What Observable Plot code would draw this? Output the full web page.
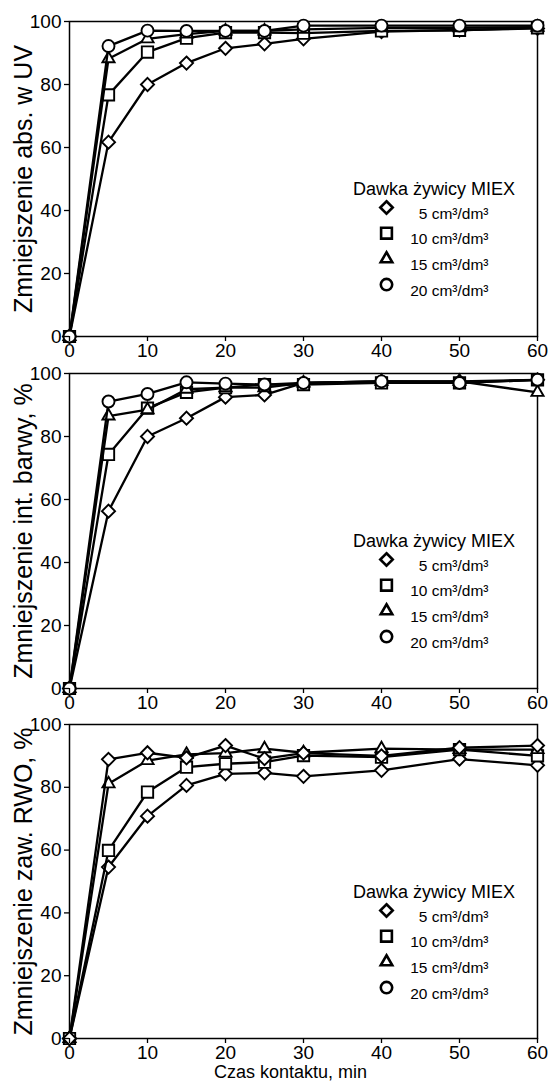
<!DOCTYPE html>
<html><head><meta charset="utf-8">
<script src="https://cdn.jsdelivr.net/npm/d3@7"></script>
<script src="https://cdn.jsdelivr.net/npm/@observablehq/plot@0.6"></script>
<style>
body{margin:0;background:#fff;font-family:"Liberation Sans",Arial,sans-serif;}
#chart{width:552px;}
#chart svg{display:block;overflow:visible;}
</style></head><body><div id="chart"></div>
<script>
const times = [0,5,10,15,20,25,30,40,50,60];
const doses = ["5 cm³/dm³","10 cm³/dm³","15 cm³/dm³","20 cm³/dm³"];
const legendTitle = "Dawka żywicy MIEX";
const xTicks = [0,10,20,30,40,50,60];
const yTicks = [0,20,40,60,80,100];
const xLabel = "Czas kontaktu, min";

const uvLabel = "Zmniejszenie abs. w UV";
const uv5  = [0,61.7,80,86.8,91.5,92.9,94.5,96.8,97.3,97.8];
const uv10 = [0,76.7,90.3,94.7,96.5,96.5,96.3,97,97.2,98];
const uv15 = [0,88.2,94.5,96,97,97,97.5,98,98,98.2];
const uv20 = [0,92.2,97.1,97,97,97,98.7,98.7,98.7,98.7];

const colLabel = "Zmniejszenie int. barwy, %";
const col5  = [0,56.3,80,85.8,92.5,93.2,97,97.5,97.5,98];
const col10 = [0,74.3,89,94,95.5,96.5,96.5,97,97,98];
const col15 = [0,86.5,88.5,95,95.5,95.5,97,97.5,97.5,94];
const col20 = [0,91.1,93.5,97.2,96.8,96.5,97,97.5,97,98];

const rwoLabel = "Zmniejszenie zaw. RWO, %";
const rwo5  = [0,54.6,70.8,80.6,84.3,84.6,83.5,85.4,89,87];
const rwo10 = [0,59.9,78.5,86.4,87.5,88,90.1,89.6,92,90];
const rwo15 = [0,81.1,88.5,90.5,90.9,92.3,91,92.3,92,92];
const rwo20 = [0,88.9,91,89.4,93.3,89.1,90.9,90,92.6,93.3];

const legendSymbols = ["diamond2","square","triangle2","circle"];
const rwoSymbols = ["diamond2","square","triangle2","diamond2"];
const symbolR = {diamond2:5.9, square:6.4, triangle2:5.8, circle:6};

function panel({label, series, symbols, height, marginTop, marginBottom, xTitle}) {
  const marks = [Plot.frame({stroke:"black", strokeWidth:1.5})];
  series.forEach((vals, i) => {
    const data = times.map((t, j) => ({t, v: vals[j]}));
    marks.push(Plot.line(data, {x:"t", y:"v", stroke:"black", strokeWidth:2.3}));
    marks.push(Plot.dot(data, {x:"t", y:"v", symbol:symbols[i], r:symbolR[symbols[i]], fill:"white", stroke:"black", strokeWidth:1.9}));
  });
  marks.push(Plot.axisY({ticks:yTicks, tickSize:5, tickPadding:3, label:null, fontSize:19, strokeWidth:1.3}));
  marks.push(Plot.axisX({ticks:xTicks, tickSize:5, tickPadding:2, label:null, fontSize:19, strokeWidth:1.3}));
  marks.push(Plot.text([label], {frameAnchor:"left", textAnchor:"middle", lineAnchor:"middle", rotate:-90, dx:-45.5, fontSize:25, fill:"black"}));
  marks.push(Plot.text([legendTitle], {frameAnchor:"top-left", dx:364.5, dy:161, textAnchor:"middle", fontSize:18, fill:"black"}));
  doses.forEach((d, i) => {
    marks.push(Plot.dot([d], {frameAnchor:"top-left", dx:317, dy:186 + 25.7*i, symbol:legendSymbols[i], r:symbolR[legendSymbols[i]]*0.95, fill:"white", stroke:"black", strokeWidth:2.6}));
    marks.push(Plot.text([d], {frameAnchor:"top-left", dx:419, dy:186 + 25.7*i, textAnchor:"end", fontSize:15.5, fill:"black"}));
  });
  if (xTitle) marks.push(Plot.text([xTitle], {frameAnchor:"bottom", textAnchor:"middle", dy:39, dx:-13, fontSize:18, fill:"black"}));
  return Plot.plot({
    width:552, height, marginTop, marginBottom, marginLeft:69, marginRight:15,
    x:{domain:[0,60]}, y:{domain:[0,100]},
    style:{fontFamily:"Liberation Sans, Arial, sans-serif", fontSize:"19px", color:"black", background:"white", overflow:"visible"},
    marks
  });
}

const root = document.getElementById("chart");
root.append(panel({label:uvLabel, series:[uv5,uv10,uv15,uv20], symbols:legendSymbols, height:360, marginTop:21, marginBottom:24}));
root.append(panel({label:colLabel, series:[col5,col10,col15,col20], symbols:legendSymbols, height:360, marginTop:13, marginBottom:32}));
root.append(panel({label:rwoLabel, series:[rwo5,rwo10,rwo15,rwo20], symbols:rwoSymbols, height:365, marginTop:4, marginBottom:47, xTitle:xLabel}));
</script></body></html>
